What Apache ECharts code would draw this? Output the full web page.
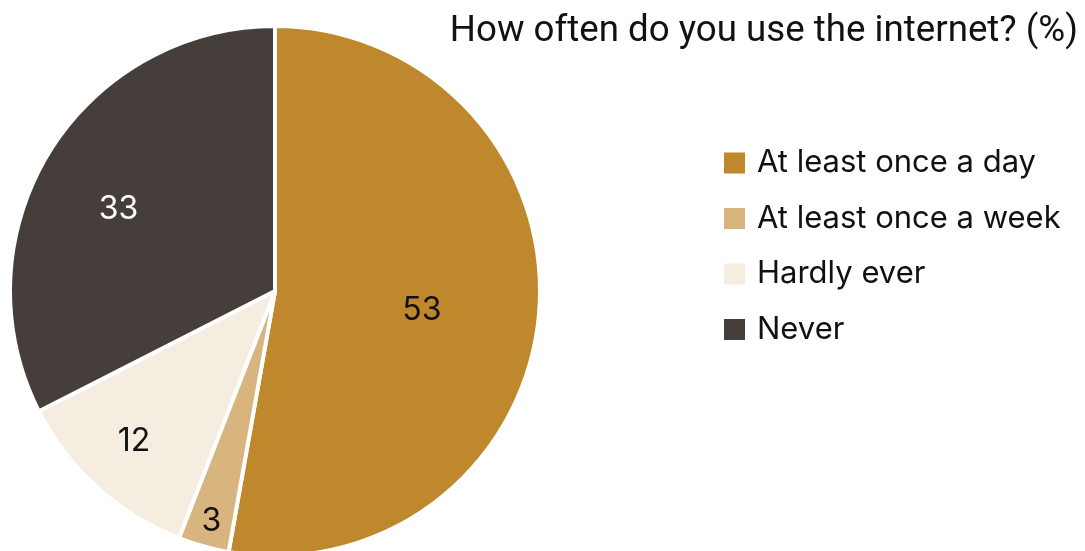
<!DOCTYPE html>
<html><head><meta charset="utf-8">
<script src="https://cdn.jsdelivr.net/npm/echarts@6/dist/echarts.min.js"></script>
<style>html,body{margin:0;padding:0;background:#fff}#c{width:1085px;height:551px}</style>
</head><body><div id="c"></div>
<script>
const categories = ["At least once a day", "At least once a week", "Hardly ever", "Never"];
// shares; labels show them rounded
const values = [52.8, 3.1, 11.6, 32.5];
const colors = ["#C0882C", "#D8B47E", "#F5EDE0", "#463E3B"];
const labelColors = ["#111111", "#111111", "#111111", "#ffffff"];
const labelOffsets = [[12, 7], [-27, 100], [-50, 50], [-41, -11]];
const title = "How often do you use the internet? (%)";

const chart = echarts.init(document.getElementById('c'), null, {renderer: 'canvas'});
chart.setOption({
  animation: false,
  title: {
    text: title, right: 7, top: 13, padding: 0,
    textStyle: {fontFamily: 'Roboto', fontSize: 36.7, fontWeight: 'normal', color: '#111'}
  },
  legend: {
    orient: 'vertical', left: 722, top: 147, padding: 0,
    itemWidth: 23, itemHeight: 23, itemGap: 23.5,
    icon: 'rect',
    data: categories,
    textStyle: {fontFamily: 'Inter', fontSize: 31, color: '#111', lineHeight: 32, padding: [0, 0, 0, 6]}
  },
  series: [{
    type: 'pie',
    center: [275, 291],
    radius: 265,
    startAngle: 90,
    clockwise: true,
    avoidLabelOverlap: false,
    labelLine: {show: false},
    itemStyle: {borderColor: '#fff', borderWidth: 4},
    emphasis: {disabled: true},
    data: categories.map((n, i) => ({
      name: n, value: values[i],
      itemStyle: {color: colors[i]},
      label: {show: true, position: 'inside', formatter: p => String(Math.round(p.value)), color: labelColors[i],
        fontFamily: 'Inter', fontSize: 32, offset: labelOffsets[i]}
    }))
  }]
});
</script></body></html>
